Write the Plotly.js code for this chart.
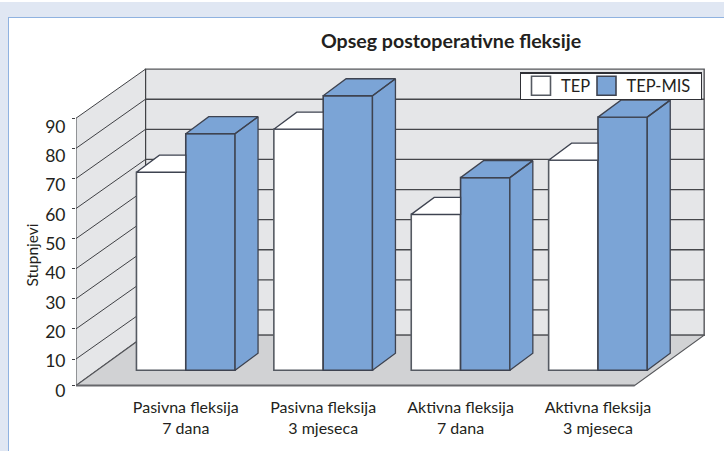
<!DOCTYPE html>
<html><head><meta charset="utf-8">
<script src="https://cdn.plot.ly/plotly-3.0.1.min.js"></script>
<style>
html,body{margin:0;padding:0;background:#fff;overflow:hidden}
#band{position:absolute;left:0;top:2px;width:724px;height:449px;background:#e0e7f3}
#card{position:absolute;left:8px;top:17px;width:716px;height:434px;background:#fff;border-left:1.5px solid #8fb2e0;border-top:1.5px solid #8fb2e0;box-sizing:border-box}
#chart{position:absolute;left:0;top:0;width:724px;height:451px}
</style></head><body>
<div id="band"></div><div id="card"></div><div id="chart"></div>
<script>
var categories = ['Pasivna fleksija<br>7 dana','Pasivna fleksija<br>3 mjeseca','Aktivna fleksija<br>7 dana','Aktivna fleksija<br>3 mjeseca'];
var tepValues = [67, 81.3, 53, 71];
var tepMisValues = [79.8, 92.4, 65.2, 85.3];
var axisTicks = [0,10,20,30,40,50,60,70,80,90];

var FONT='Lato, "Open Sans", sans-serif', INK='#231f20', EDGE='#3e4350', BLUE='#7ba4d6';
var pos=[0,1,2,3];
// projection of the oblique box, in axis units
var barW=0.359, floorV=1.2, floorBackV=17.9, wallDx=0.506, wallDy=16.3;
var xL=-0.799, xR=3.267;
var barLift=5.05, barDx=0.167, barDy=5.65;
var shapes=[];
function poly(pts,fill,lc,lw){
  shapes.push({type:'path',layer:'below',xref:'x',yref:'y',
    path:'M'+pts.map(function(p){return p[0]+','+p[1]}).join('L')+'Z',
    fillcolor:fill,line:{color:lc,width:lw}});
}
function seg(a,b,c,w){shapes.push({type:'line',layer:'below',xref:'x',yref:'y',x0:a[0],y0:a[1],x1:b[0],y1:b[1],line:{color:c,width:w}});}
var maxTick=axisTicks[axisTicks.length-1];
poly([[xL+wallDx,floorBackV],[xR+wallDx,floorBackV],[xR+wallDx,maxTick+wallDy],[xL+wallDx,maxTick+wallDy]],'#e5e6e8','#55565a',1.4);
poly([[xL,floorV],[xL+wallDx,floorBackV],[xL+wallDx,maxTick+wallDy],[xL,maxTick]],'#e5e6e8','#3f4044',1);
poly([[xL,floorV],[xR,floorV],[xR+wallDx,floorBackV],[xL+wallDx,floorBackV]],'#d1d2d4','#55565a',1.2);
seg([xL,floorV],[xR,floorV],'#66676b',1.8);
axisTicks.slice(1,-1).forEach(function(v){
  seg([xL,v],[xL+wallDx,v+wallDy],'#3f4044',1);
  seg([xL+wallDx,v+wallDy],[xR+wallDx,v+wallDy],'#45464a',1.3);
});

function faces(vals,x0off,x1off,white){
  var X=[],Y=[];
  vals.forEach(function(v,i){
    var a=pos[i]+x0off,b=pos[i]+x1off,t=v+barLift,base=floorV+barLift;
    if(white){
      X.push(a,b,b,a+barDx,a,null);Y.push(t,t,t+barDy,t+barDy,t,null);
    }else{
      X.push(a,b,b+barDx,a+barDx,a,null);Y.push(t,t,t+barDy,t+barDy,t,null);
      X.push(b,b+barDx,b+barDx,b,b,null);Y.push(base,base+barDy,t+barDy,t,base,null);
    }
  });
  return {type:'scatter',mode:'lines',x:X,y:Y,fill:'toself',fillcolor:white?'#ffffff':BLUE,
    line:{color:EDGE,width:1.3},showlegend:false,hoverinfo:'skip',xaxis:'x',yaxis:'y'};
}
function bars(name,vals,offset,color,lc){
  return {type:'bar',name:name,x:pos,y:vals.map(function(v){return v-floorV}),base:floorV+barLift,
    width:barW,offset:offset,marker:{color:color,line:{color:lc,width:1.6}},hoverinfo:'skip'};
}
var data=[
  bars('TEP',tepValues,-barW,'#ffffff','#555a62'),
  bars('TEP-MIS',tepMisValues,0,BLUE,EDGE),
  faces(tepValues,-barW,0,true),
  faces(tepMisValues,0,barW,false),
  {type:'scatter',mode:'markers',x:[0],y:[0],yaxis:'y2',marker:{opacity:0},showlegend:false,hoverinfo:'skip'}
];
var layout={
  width:724,height:451,margin:{l:76,r:19,t:66,b:60,pad:0},
  paper_bgcolor:'rgba(0,0,0,0)',plot_bgcolor:'rgba(0,0,0,0)',
  barmode:'overlay',showlegend:true,
  font:{family:FONT,color:INK},
  title:{text:'<b>Opseg postoperativne fleksije</b>',x:451/724,xanchor:'center',y:1-41/451,yanchor:'middle',
    font:{family:FONT,size:19.6,color:INK}},
  xaxis:{range:[xL,3.779],tickvals:pos,ticktext:categories,ticks:'',showgrid:false,zeroline:false,showline:false,
    tickfont:{size:16,family:FONT,color:INK},ticklabelstandoff:5},
  yaxis:{range:[-0.63,107.34],tickvals:[floorV].concat(axisTicks.slice(1)),showticklabels:false,showgrid:false,zeroline:false,
    ticks:'outside',ticklen:3,tickcolor:'#3f4044',tickwidth:1,showline:false},
  yaxis2:{overlaying:'y',side:'left',anchor:'x',range:[-0.17,110.6],tickvals:axisTicks,ticks:'outside',ticklen:6,tickcolor:'rgba(0,0,0,0)',
    showgrid:false,zeroline:false,showline:false,tickfont:{size:17.5,family:FONT,color:INK}},
  legend:{orientation:'h',x:(519.5-76)/629,xanchor:'left',y:(391-72)/325,yanchor:'top',
    bgcolor:'#ffffff',bordercolor:'#2f3036',borderwidth:1.5,font:{size:16.5,family:FONT,color:INK},
    itemclick:false,itemdoubleclick:false},
  shapes:shapes,
  annotations:[{text:'Stupnjevi',xref:'paper',yref:'paper',x:(31-76)/629,y:(391-255.5)/325,showarrow:false,textangle:-90,
    xanchor:'center',yanchor:'middle',font:{size:15.5,family:FONT,color:INK}}]
};
Plotly.newPlot('chart',data,layout,{displayModeBar:false,staticPlot:true}).then(function(){
  // tighten the legend box to the reference's proportions
  var legendW=181, legendH=26.5, secondX=67;
  var bg=document.querySelector('.legend .bg');
  var oldH=parseFloat(bg.getAttribute('height'));
  bg.setAttribute('width',legendW); bg.setAttribute('height',legendH);
  var dy=(oldH-legendH)/2;
  document.querySelectorAll('.legend .traces').forEach(function(t,i){
    var m=/translate\(([-\d.]+),\s*([-\d.]+)\)/.exec(t.getAttribute('transform'));
    t.setAttribute('transform','translate('+(i===0?m[1]:secondX)+','+(parseFloat(m[2])-dy)+')');
  });
  document.querySelectorAll('.legend .legendpoints path').forEach(function(p){
    p.setAttribute('d','M9.5,9.5H-9.5V-9.5H9.5Z');
  });
});
</script>
</body></html>
